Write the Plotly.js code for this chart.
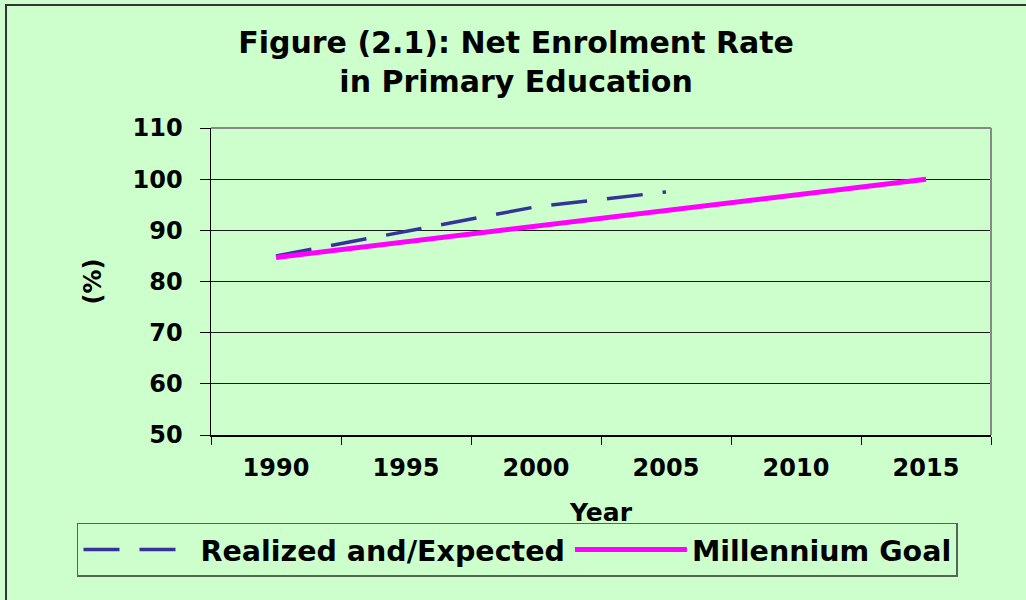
<!DOCTYPE html>
<html>
<head>
<meta charset="utf-8">
<script src="https://cdn.plot.ly/plotly-3.0.1.min.js"></script>
<style>
  html, body { margin: 0; padding: 0; background: #CCFFCC; }
  #chart { width: 1026px; height: 600px; }
</style>
</head>
<body>
<div id="chart"></div>
<script>
// ---- data ----
var years = ['1990', '1995', '2000', '2005', '2010', '2015'];
var realizedExpected = [85.0, 89.8, 94.6, 97.5, null, null];
var millenniumGoal = [84.7, 87.8, 90.8, 93.8, 96.9, 100.0];
var yTicks = [50, 60, 70, 80, 90, 100, 110];

var FONT = 'DejaVu Sans, Liberation Sans, Arial, sans-serif';

var traces = [
  {
    type: 'scatter', mode: 'lines', name: 'Realized and/Expected',
    x: years, y: realizedExpected,
    line: { color: '#333399', width: 3.5, dash: '36px,20px' },
    connectgaps: false
  },
  {
    type: 'scatter', mode: 'lines', name: 'Millennium Goal',
    x: years, y: millenniumGoal,
    line: { color: '#FF00FF', width: 5 }
  }
];

var layout = {
  width: 1026, height: 600,
  paper_bgcolor: '#CCFFCC',
  plot_bgcolor: '#CCFFCC',
  margin: { l: 211, r: 35, t: 128, b: 165 },
  font: { family: FONT, color: '#000000' },
  title: {
    text: 'Figure (2.1): Net Enrolment Rate<br>in Primary Education',
    font: { family: FONT, size: 30, weight: 'bold', color: '#000' },
    x: 0.503, xref: 'container', xanchor: 'center',
    y: 0.912, yref: 'container', yanchor: 'top'
  },
  xaxis: {
    type: 'category',
    range: [-0.5, 5.5],
    tickson: 'boundaries',
    ticks: 'outside', ticklen: 8, tickcolor: '#000', tickwidth: 1,
    showline: true, linecolor: '#000', linewidth: 1.5,
    showgrid: false, zeroline: false,
    tickfont: { family: FONT, size: 24, weight: 'bold', color: '#000' },
    ticklabelstandoff: 11,
    title: { text: 'Year', font: { family: FONT, size: 25, weight: 'bold', color: '#000' }, standoff: 22 },
    fixedrange: true
  },
  yaxis: {
    range: [50, 110],
    tickvals: yTicks,
    ticks: 'outside', ticklen: 10, tickcolor: '#000', tickwidth: 1,
    showline: true, linecolor: '#000', linewidth: 1.5,
    showgrid: true, gridcolor: '#1a1a1a', gridwidth: 1,
    zeroline: false,
    tickfont: { family: FONT, size: 24, weight: 'bold', color: '#000' },
    ticklabelstandoff: 12,
    title: { text: '(%)', font: { family: FONT, size: 24, weight: 'bold', color: '#000' }, standoff: 24 },
    fixedrange: true
  },
  showlegend: true,
  legend: {
    orientation: 'h',
    x: -0.1718, xanchor: 'left',
    y: -0.2864, yanchor: 'top',
    bgcolor: 'rgba(0,0,0,0)',
    bordercolor: '#556655', borderwidth: 1.5,
    font: { family: FONT, size: 28.5, weight: 'bold', color: '#000' },
    itemwidth: 112,
    traceorder: 'normal'
  },
  shapes: [
    // gray top and right frame of plot area
    { type: 'line', xref: 'paper', yref: 'paper', x0: 0, x1: 1, y0: 1, y1: 1,
      line: { color: '#888888', width: 2 } },
    { type: 'line', xref: 'paper', yref: 'paper', x0: 1, x1: 1, y0: 0, y1: 1,
      line: { color: '#888888', width: 2 } },
    // outer chart border
    { type: 'rect', xref: 'paper', yref: 'paper', x0: -0.2628, x1: 1.06, y0: -0.56, y1: 1.4007,
      line: { color: '#333333', width: 2 }, layer: 'below' }
  ]
};

Plotly.newPlot('chart', traces, layout, { displayModeBar: false, staticPlot: true });
</script>
</body>
</html>
